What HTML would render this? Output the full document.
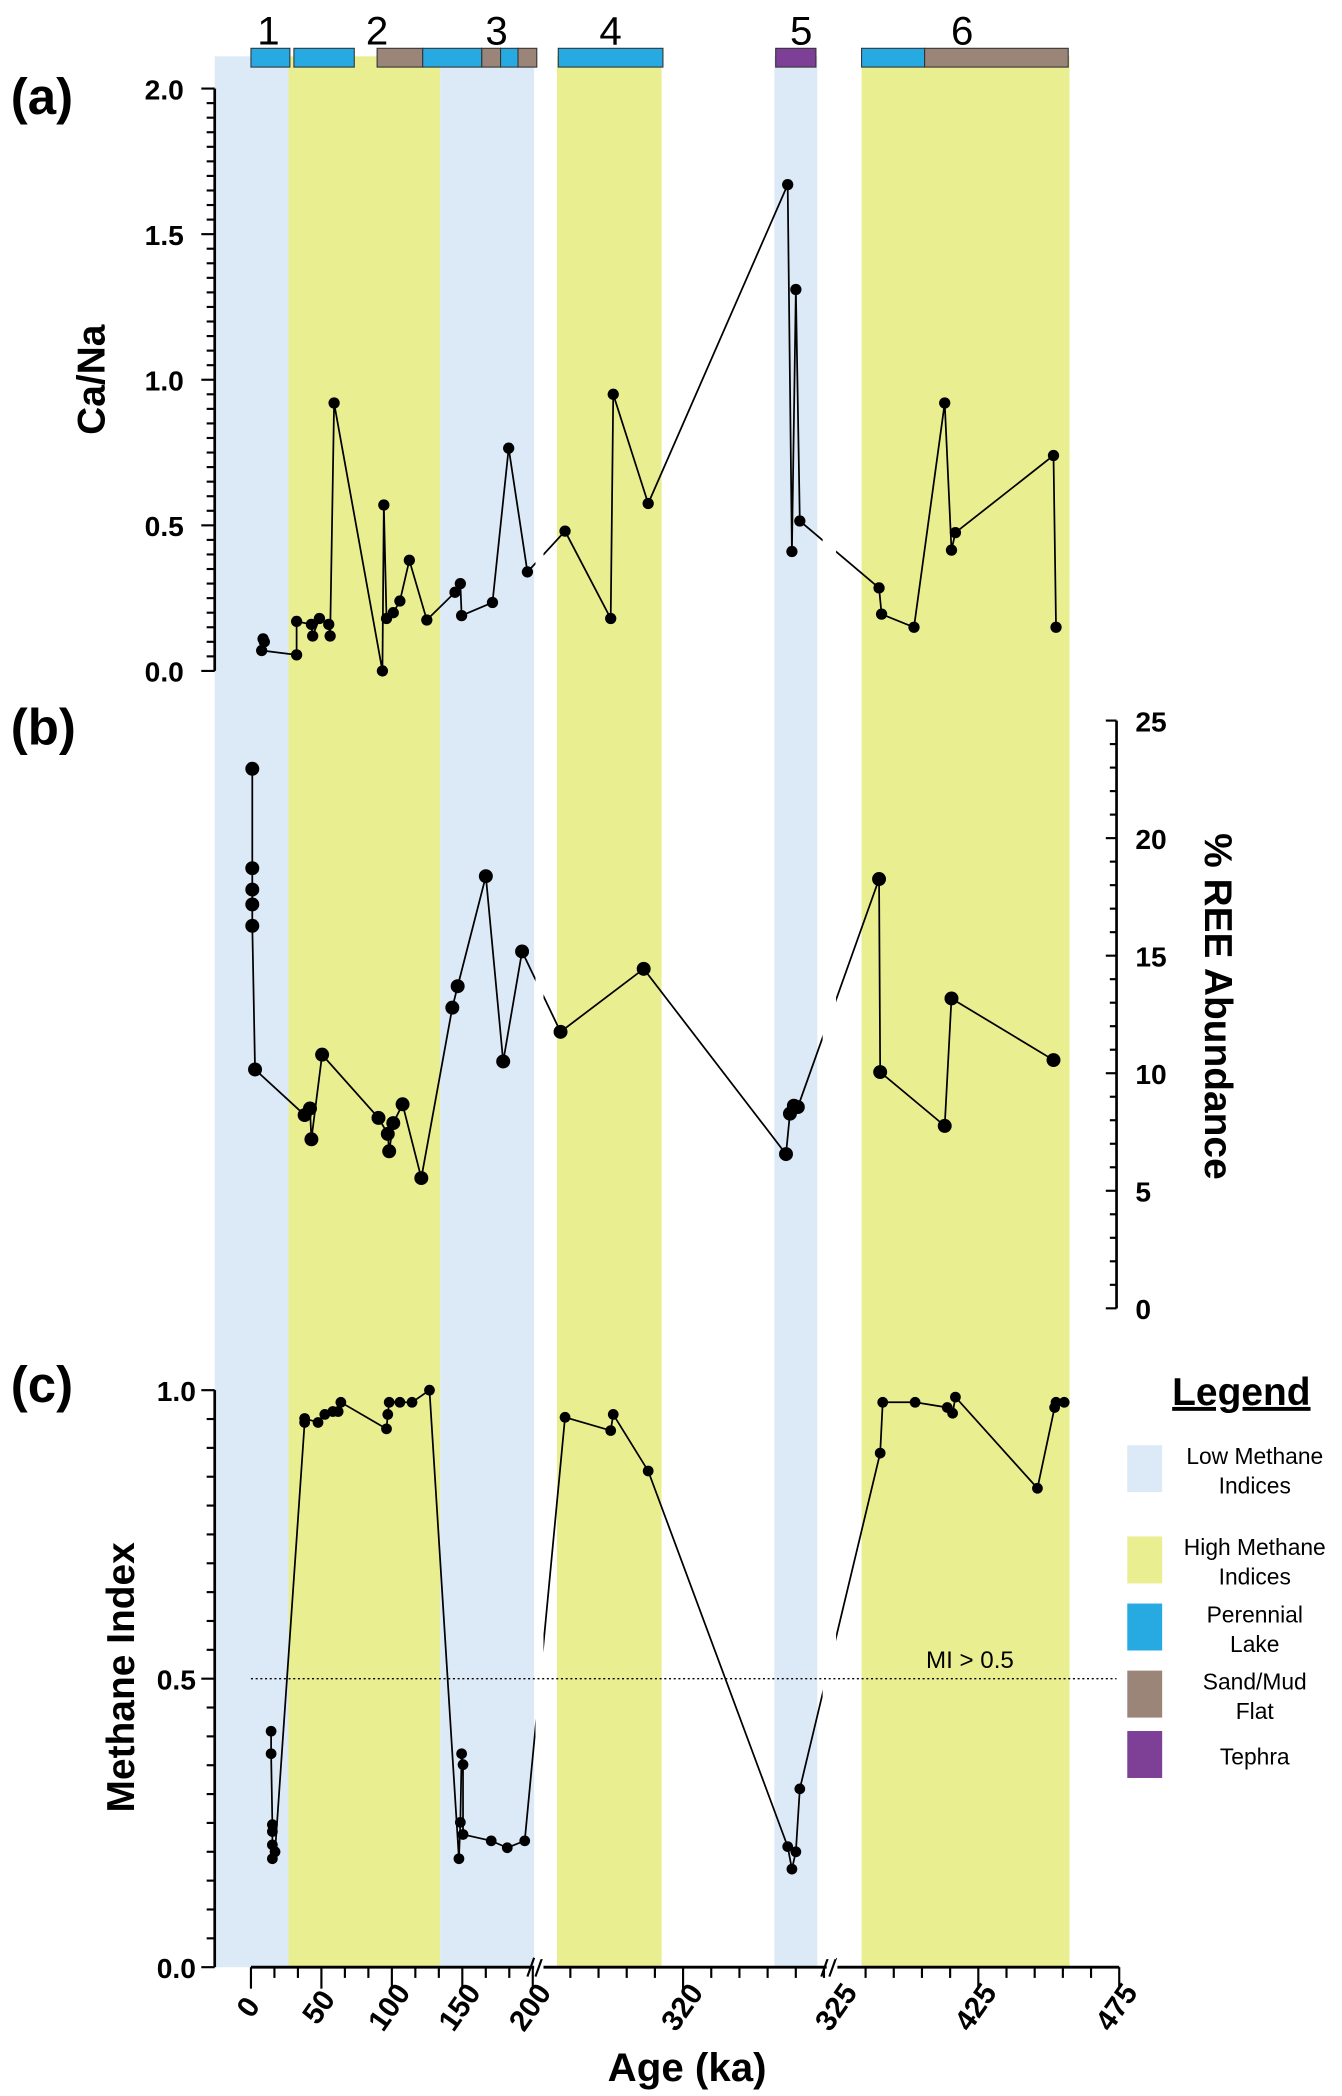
<!DOCTYPE html>
<html><head><meta charset="utf-8"><style>
html,body{margin:0;padding:0;background:#fff}
svg{display:block;font-family:"Liberation Sans",Arial,sans-serif}
</style></head><body>
<svg id="chart" width="1342" height="2096" viewBox="0 0 1000 1562" preserveAspectRatio="none" xmlns="http://www.w3.org/2000/svg">
<g id="bands"></g>
<g id="bars"></g>
<g id="axes"></g>
<g id="series"></g>
<g id="legend">
  <text x="925" y="1047" font-size="29" font-weight="bold" text-anchor="middle" text-decoration="underline">Legend</text>
</g>
</svg>
<script>
// ---- data ----
const caNaAge=[8.6,9.5,7.6,32.4,32.4,42.9,43.8,48.6,55.2,56.2,59,93.3,94.3,96.2,101,105.7,112.4,124.8,144.8,148.6,149.5,171.4,182.9,196.2,277.5,293.7,294.6,307,356.5,358,359.4,360.8,389.8,390.7,402.2,413.1,415.5,416.9,451.7,452.6];
const caNaVal=[0.11,0.10,0.07,0.055,0.17,0.16,0.12,0.18,0.16,0.12,0.92,0.0,0.57,0.18,0.20,0.24,0.38,0.175,0.27,0.30,0.19,0.235,0.765,0.34,0.48,0.18,0.95,0.575,1.67,0.41,1.31,0.515,0.285,0.195,0.15,0.92,0.415,0.475,0.74,0.15];
const reeAge=[0.95,0.95,0.95,0.95,0.95,2.9,38.1,41.9,42.9,50.5,90.5,97.1,98.1,101,107.6,120.9,142.9,146.7,166.7,179,192.4,275.9,305.4,355.9,357.3,358.7,360.1,389.8,390.2,413.1,415.5,451.7];
const reeVal=[22.95,18.72,17.81,17.18,16.27,10.16,8.22,8.50,7.19,10.79,8.10,7.42,6.68,7.88,8.68,5.54,12.79,13.70,18.38,10.50,15.18,11.76,14.44,6.56,8.28,8.62,8.56,18.26,10.05,7.76,13.18,10.56];
const miAge=[14.3,14.3,15.2,15.2,15.2,15.2,17.1,38.1,38.1,47.6,52.4,58.1,61.9,63.8,96.2,97.1,98.1,105.7,114.3,126.7,147.6,148.6,149.5,150.5,150.5,170.5,181.9,194.3,277.5,293.7,294.6,307,356.5,358,359.4,360.8,390.2,391.1,402.6,414,415.9,416.9,446,452.1,452.6,455.5];
const miVal=[0.409,0.370,0.247,0.235,0.212,0.188,0.200,0.944,0.951,0.944,0.958,0.963,0.963,0.979,0.933,0.958,0.979,0.979,0.979,1.0,0.188,0.251,0.370,0.351,0.23,0.219,0.207,0.219,0.953,0.930,0.958,0.860,0.209,0.170,0.2,0.309,0.891,0.979,0.979,0.970,0.960,0.988,0.830,0.970,0.979,0.979];
const caNaTicks=["0.0","0.5","1.0","1.5","2.0"];
const reeTicks=["0","5","10","15","20","25"];
const miTicks=["0.0","0.5","1.0"];
const xTickLabels=["0","50","100","150","200","320","325","425","475"];
const xTickPos=[0,50,100,150,200,320,375.5,425,475];

// ---- scales ----
function X(a){ if(a<=200) return 187+a*1.05; if(a<375) return 399+(a-267)*2.1; return 625+(a-375.5)*2.1; }
const Ya=v=>500-v*217, Yb=v=>975-v*17.52, Yc=v=>1466-v*430;
const NS="http://www.w3.org/2000/svg";
function el(tag,attrs,parent){const e=document.createElementNS(NS,tag);for(const k in attrs)e.setAttribute(k,attrs[k]);parent.appendChild(e);return e;}
const bandsG=document.getElementById('bands'),barsG=document.getElementById('bars'),axesG=document.getElementById('axes'),serG=document.getElementById('series'),legG=document.getElementById('legend');
const LB="#dce9f6",YL="#e9ee91",BL="#27aae1",BR="#9b8579",PU="#7e3f96";

// bands
[[160,215,LB],[215,328,YL],[328,398,LB],[415,493,YL],[577,609,LB],[642,797,YL]].forEach(b=>{
  const r=el('rect',{x:b[0],y:42,width:b[1]-b[0],height:1466-42,fill:b[2]},bandsG);
  
  
});
// facies bars
[[187,216,BL],[219,264,BL],[281,315,BR],[315,359,BL],[359,373,BR],[373,386,BL],[386,400,BR],[416,494,BL],[578,608,PU],[642,689,BL],[689,796,BR]].forEach(b=>{
  const r=el('rect',{x:b[0],y:36,width:b[1]-b[0],height:14,fill:b[2],stroke:'#333','stroke-width':0.8},barsG);
  
  
});
[["1",200],["2",281],["3",370],["4",455],["5",597],["6",717]].forEach(n=>{
  const t=el('text',{x:n[1],y:33,'font-size':30,'text-anchor':'middle'},barsG);t.textContent=n[0];
  
  
});

// panel labels & titles
[["(a)",8,85],["(b)",8,555],["(c)",8,1045]].forEach(p=>{
  const t=el('text',{x:p[1],y:p[2],'font-size':38,'font-weight':'bold'},axesG);t.textContent=p[0];
  
  
});
let t=el('text',{transform:'translate(78,283) rotate(-90)','font-size':29,'font-weight':'bold','text-anchor':'middle'},axesG);t.textContent='Ca/Na';


t=el('text',{transform:'translate(100,1250) rotate(-90)','font-size':29,'font-weight':'bold','text-anchor':'middle'},axesG);t.textContent='Methane Index';


t=el('text',{transform:'translate(898,750) rotate(90)','font-size':29,'font-weight':'bold','text-anchor':'middle'},axesG);t.textContent='% REE Abundance';


t=el('text',{x:512,y:1551,'font-size':30,'font-weight':'bold','text-anchor':'middle'},axesG);t.textContent='Age (ka)';



// left axis (a)
el('line',{x1:160,y1:Ya(2),x2:160,y2:Ya(0),stroke:'#000','stroke-width':2},axesG);
for(let i=0;i<=40;i++){const v=i*0.05,maj=i%10==0;el('line',{x1:maj?150:154,y1:Ya(v),x2:160,y2:Ya(v),stroke:'#000','stroke-width':1.6},axesG);}
caNaTicks.forEach(s=>{const t=el('text',{x:137,y:Ya(+s)+8,'font-size':21,'font-weight':'bold','text-anchor':'end'},axesG);t.textContent=s;
  
  });
// left axis (c)
el('line',{x1:160,y1:Yc(1),x2:160,y2:Yc(0),stroke:'#000','stroke-width':2},axesG);
for(let i=0;i<=20;i++){const v=i*0.05,maj=i%10==0;el('line',{x1:maj?150:154,y1:Yc(v),x2:160,y2:Yc(v),stroke:'#000','stroke-width':1.6},axesG);}
miTicks.forEach(s=>{const t=el('text',{x:146,y:Yc(+s)+8,'font-size':21,'font-weight':'bold','text-anchor':'end'},axesG);t.textContent=s;
  
  });
// right axis (b)
el('line',{x1:832,y1:Yb(25),x2:832,y2:Yb(0),stroke:'#000','stroke-width':2},axesG);
for(let i=0;i<=25;i++){const maj=i%5==0;el('line',{x1:maj?824:827,y1:Yb(i),x2:832,y2:Yb(i),stroke:'#000','stroke-width':1.6},axesG);}
reeTicks.forEach(s=>{const t=el('text',{x:846,y:Yb(+s)+8,'font-size':21,'font-weight':'bold'},axesG);t.textContent=s;
  
  });
// x axis
[[187,398],[405,616],[624,834]].forEach(s=>el('line',{x1:s[0],y1:1466,x2:s[1],y2:1466,stroke:'#000','stroke-width':2.2},axesG));
[399,618].forEach(x=>{el('line',{x1:x-6,y1:1473,x2:x-1,y2:1459,stroke:'#000','stroke-width':1.6},axesG);el('line',{x1:x,y1:1473,x2:x+5,y2:1459,stroke:'#000','stroke-width':1.6},axesG);});
for(let i=0;i<=12;i++){const x=187+i*17.5;el('line',{x1:x,y1:1466,x2:x,y2:i%3==0?1482:1474,stroke:'#000','stroke-width':1.6},axesG);}
for(let x=425;x<615;x+=21){el('line',{x1:x,y1:1466,x2:x,y2:Math.abs(x-509)<3?1482:1474,stroke:'#000','stroke-width':1.6},axesG);}
for(let i=0;i<=9;i++){const x=645+i*21;el('line',{x1:x,y1:1466,x2:x,y2:(i==4||i==9)?1482:1474,stroke:'#000','stroke-width':1.6},axesG);}
xTickLabels.forEach((s,i)=>{const x=X(xTickPos[i]);const t=el('text',{transform:`translate(${x+4},${1500}) rotate(-55)`,'font-size':22,'font-weight':'bold','text-anchor':'middle'},axesG);t.textContent=s;
  
  });

// series
function series(ages,vals,Y,r,name){
  const pts=ages.map((a,i)=>X(a)+','+Y(vals[i])).join(' ');
  const pl=el('polyline',{points:pts,fill:'none',stroke:'#000','stroke-width':1.3},serG);
  
  
  // break gaps (only over white regions)
  el('rect',{x:399,y:Y.top,width:6,height:Y.bot-Y.top,fill:'#fff'},serG);
  el('rect',{x:613,y:Y.top,width:10,height:Y.bot-Y.top,fill:'#fff'},serG);
  ages.forEach((a,i)=>{const c=el('circle',{cx:X(a),cy:Y(vals[i]),r:r,fill:'#000'},serG);
    
    });
}
Ya.top=60;Ya.bot=505;Yb.top=540;Yb.bot=975;Yc.top=1030;Yc.bot=1460;
series(caNaAge,caNaVal,Ya,4.2,'ca-na');
series(reeAge,reeVal,Yb,5.2,'ree');
series(miAge,miVal,Yc,4,'methane-index');

// threshold (drawn after gaps so it stays continuous)
el('line',{x1:187,y1:Yc(0.5),x2:832,y2:Yc(0.5),stroke:'#000','stroke-width':1,'stroke-dasharray':'1.5,2'},serG);
t=el('text',{x:690,y:1243,'font-size':18},serG);t.textContent='MI > 0.5';



// legend entries
[[LB,1077,["Low Methane","Indices"]],[YL,1145,["High Methane","Indices"]],[BL,1195,["Perennial","Lake"]],[BR,1245,["Sand/Mud","Flat"]],[PU,1290,["Tephra"]]].forEach(e=>{
  const r=el('rect',{x:840,y:e[1],width:26,height:35,fill:e[0]},legG);
  
  
  e[2].forEach((s,j)=>{const ty=e[2].length==1?e[1]+25:e[1]+14+j*22;const t=el('text',{x:935,y:ty,'font-size':17,'text-anchor':'middle'},legG);t.textContent=s;
    
    });
});
</script>
</body></html>
